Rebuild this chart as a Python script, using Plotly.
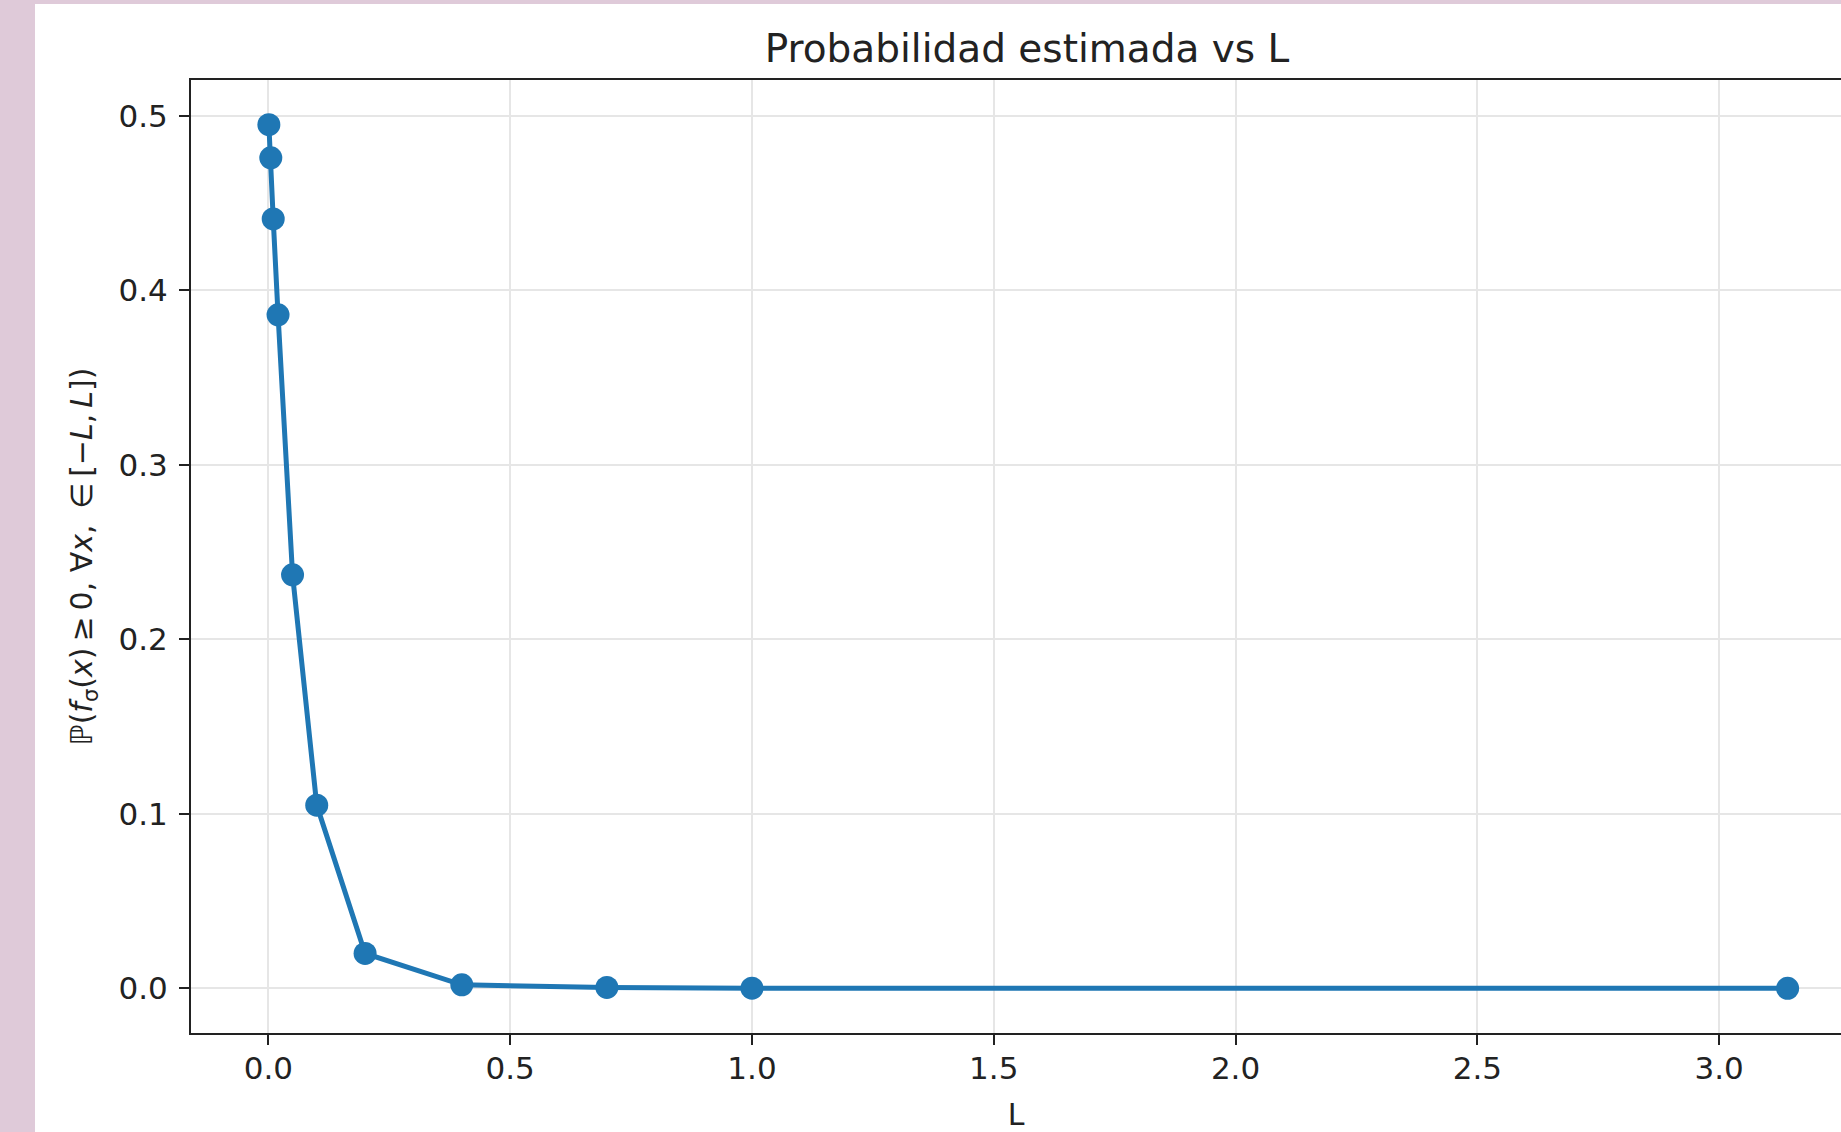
import plotly.graph_objects as go

# Data
L_values = [0.001, 0.005, 0.01, 0.02, 0.05, 0.1, 0.2, 0.4, 0.7, 1.0, 3.14159]
prob_values = [0.495, 0.476, 0.441, 0.386, 0.237, 0.105, 0.020, 0.002, 0.0005, 0.0001, 0.0]
x_ticks = [0.0, 0.5, 1.0, 1.5, 2.0, 2.5, 3.0]
y_ticks = [0.0, 0.1, 0.2, 0.3, 0.4, 0.5]

W, H = 1841, 1132
ML, MR, MT, MB = 191, 0, 80, 99
PW = W - ML - MR
PH = H - MT - MB

def px_x(p):
    return (p - ML) / PW

def px_y(p):
    return (H - MB - p) / PH

FONT = "DejaVu Sans"
PINK = "#dfcad9"
BLUE = "#1f77b4"
TXT = "#222222"

fig = go.Figure()
fig.add_trace(go.Scatter(
    x=L_values, y=prob_values, mode="lines+markers",
    line=dict(color=BLUE, width=5),
    marker=dict(color=BLUE, size=23),
    showlegend=False,
))

fig.update_layout(
    width=W, height=H,
    margin=dict(l=ML, r=MR, t=MT, b=MB, autoexpand=False),
    paper_bgcolor="white", plot_bgcolor="white",
    font=dict(family=FONT, color=TXT, size=30),
    title=dict(
        text="Probabilidad estimada vs L",
        font=dict(family=FONT, size=39, color=TXT),
        x=px_x(1027), xref="paper", xanchor="center",
        y=1 - 48 / H, yref="container", yanchor="middle",
    ),
    shapes=[
        dict(type="rect", xref="paper", yref="paper",
             x0=px_x(0), x1=px_x(35), y0=px_y(H), y1=px_y(0),
             fillcolor=PINK, line=dict(width=0), layer="below"),
        dict(type="rect", xref="paper", yref="paper",
             x0=px_x(0), x1=1.0, y0=px_y(4), y1=px_y(0),
             fillcolor=PINK, line=dict(width=0), layer="below"),
    ],
)

fig.update_xaxes(
    range=[-0.160, 3.252],
    tickvals=x_ticks, ticktext=[f"{v:.1f}" for v in x_ticks],
    ticks="outside", ticklen=10, tickwidth=2, tickcolor=TXT,
    showline=True, linecolor=TXT, linewidth=2, mirror=True,
    showgrid=True, gridcolor="#e6e6e6", gridwidth=1.5,
    zeroline=False, ticklabelstandoff=-3,
    tickfont=dict(family=FONT, size=31, color=TXT),
    title=dict(text="\u2002\u2009L", font=dict(family=FONT, size=30, color=TXT), standoff=19),
)
fig.update_yaxes(
    range=[-0.0256, 0.5206],
    tickvals=y_ticks, ticktext=[f"{v:.1f}" for v in y_ticks],
    ticks="outside", ticklen=10, tickwidth=2, tickcolor=TXT,
    showline=True, linecolor=TXT, linewidth=2, mirror=False,
    showgrid=True, gridcolor="#e6e6e6", gridwidth=1.5,
    zeroline=False, ticklabelstandoff=5,
    tickfont=dict(family=FONT, size=31, color=TXT),
    title=dict(
        text="ℙ(<i>f</i><sub>σ</sub>(<i>x</i>)\u2009≥\u20090, ∀<i>x</i>, \u2009∈\u2009[−<i>L</i>,\u2009<i>L</i>])",
        font=dict(family=FONT, size=30, color=TXT), standoff=17),
)

fig.write_html(
    "out.html",
    config={"displayModeBar": False},
    post_script="document.body.style.margin='0';document.body.style.overflow='hidden';",
)
